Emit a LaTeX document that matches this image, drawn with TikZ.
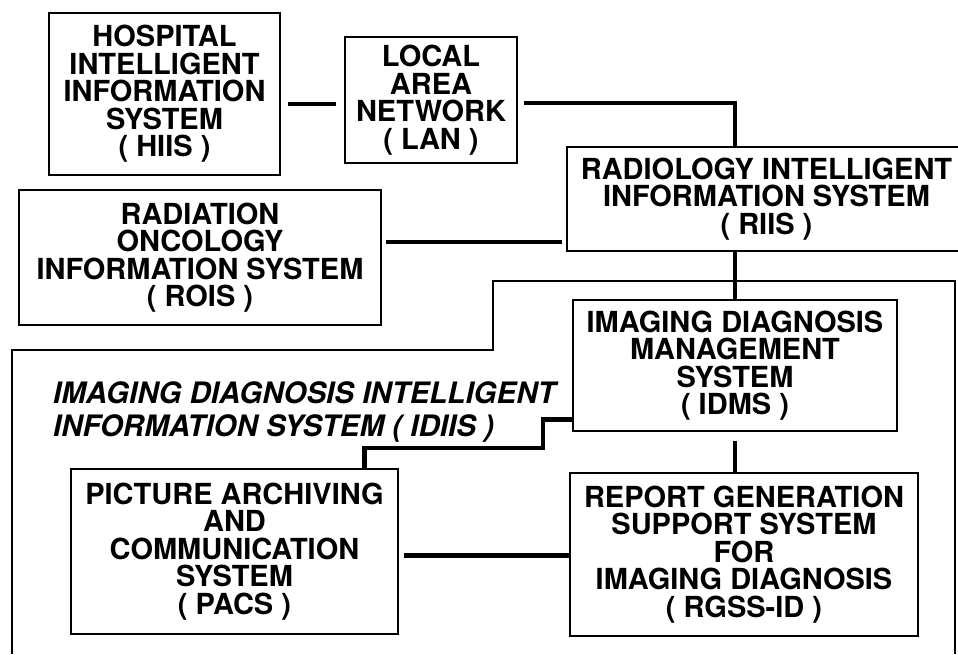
\documentclass[tikz,border=0pt]{standalone}
\usepackage{fontspec}
\setmainfont{TeX Gyre Heros}
\usetikzlibrary{positioning}

\newcommand{\sysfont}{\fontsize{29}{27.5}\selectfont\bfseries}
\newcommand{\idiisfont}{\fontsize{29.5}{33}\selectfont\bfseries\itshape}

\begin{document}
\begin{tikzpicture}[x=1pt, y=-1pt,
    sys/.style={draw, line width=1.6pt, align=center, inner sep=0pt, font=\sysfont},
    link/.style={line width=4.5pt},
    frame/.style={line width=1.3pt}]
    \useasboundingbox (0,0) rectangle (958,654);

    % outer boundary of IDIIS
    \draw[frame] (12,654) -- (12,350) -- (493,350) -- (493,281) -- (955,281) -- (955,654);

    \node[sys, minimum width=231pt, minimum height=162pt] (HIIS) at (164.5,94) {HOSPITAL\\ INTELLIGENT\\ INFORMATION\\ SYSTEM\\ ( HIIS )};
    \node[sys, minimum width=172pt, minimum height=126pt] (LAN) at (431,100) {LOCAL\\ AREA\\ NETWORK\\ ( LAN )};
    \node[sys, minimum width=399pt, minimum height=104pt] (RIIS) at (766.5,199) {RADIOLOGY INTELLIGENT\\ INFORMATION SYSTEM\\ ( RIIS )};
    \node[sys, minimum width=362pt, minimum height=135pt] (ROIS) at (200,257.5) {RADIATION\\ ONCOLOGY\\ INFORMATION SYSTEM\\ ( ROIS )};
    \node[sys, minimum width=324pt, minimum height=131pt] (IDMS) at (735,365.5) {IMAGING DIAGNOSIS\\ MANAGEMENT\\ SYSTEM\\ ( IDMS )};
    \node[sys, minimum width=327pt, minimum height=165pt] (PACS) at (234.5,551.5) {PICTURE ARCHIVING\\ AND\\ COMMUNICATION\\ SYSTEM\\ ( PACS )};
    \node[sys, minimum width=348pt, minimum height=163pt] (RGSS) at (744,554.5) {REPORT GENERATION\\ SUPPORT SYSTEM\\ FOR\\ IMAGING DIAGNOSIS\\ ( RGSS-ID )};

    \node[anchor=north west, align=left, inner sep=0pt, font=\idiisfont] (IDIIS) at (53,381) {IMAGING DIAGNOSIS INTELLIGENT\\ INFORMATION SYSTEM ( IDIIS )};

    % connections
    \coordinate (bend) at (543,448);
    \draw[link, shorten <=7pt, shorten >=8pt] ([yshift=-10pt]HIIS.east) -- ([yshift=-4pt]LAN.west);
    \draw[link, shorten <=6pt] ([yshift=-3pt]LAN.east) -| (IDMS.north |- RIIS.north);
    \draw[link, shorten <=4pt, shorten >=4pt] ([yshift=15.5pt]ROIS.east) -- ([yshift=15.5pt]ROIS.east -| RIIS.west);
    \draw[link] (RIIS.south -| IDMS.north) -- (IDMS.north);
    \draw[link, shorten <=9pt] (IDMS.south) -- (IDMS.south |- RGSS.north);
    \draw[link] ([yshift=-54pt]IDMS.west) -| (bend) -| ([xshift=130pt]PACS.north);
    \draw[link, shorten <=5pt] ([yshift=-4pt]PACS.east) -- ([yshift=-4pt]PACS.east -| RGSS.west);
\end{tikzpicture}
\end{document}
